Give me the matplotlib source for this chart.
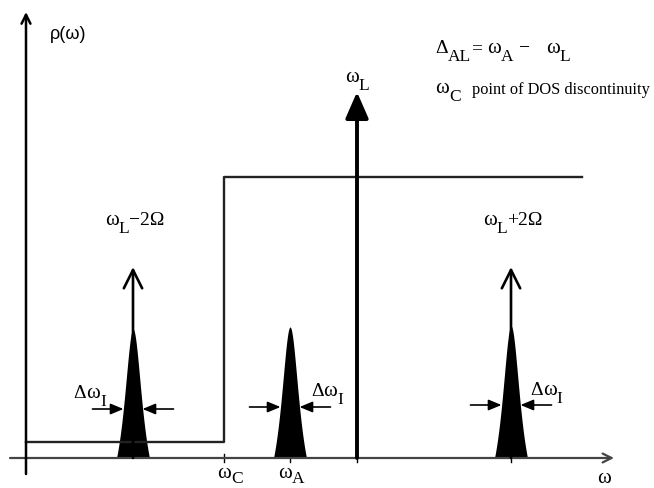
import numpy as np
import matplotlib
matplotlib.use("Agg")
import matplotlib.pyplot as plt

SERIF = ['Liberation Serif', 'DejaVu Serif']
SANS = ['Liberation Sans', 'DejaVu Sans']
plt.rcParams['font.family'] = SERIF

# ---- data (schematic units: omega along x, rho / intensity along y) ----
omega_C = 198          # point of DOS discontinuity
omega_A = 264          # atomic transition
omega_L = 331          # laser frequency
omega_end = 556        # end of drawn DOS
rho_low = 16           # DOS below omega_C
rho_high = 281         # DOS above omega_C
peak_centers = [107, 264, 485]      # omega_L-2Omega, omega_A, omega_L+2Omega
peak_heights = [129, 131, 132]
peak_halfbase = 16.5                # half width of peak at base
peak_gamma = 11.3                   # Lorentzian width parameter
side_arrow_top = 191                # height of sideband delta arrows
laser_arrow_top = 366               # height of omega_L arrow
width_marker_y = [49, 51, 53]       # height of Delta omega_I markers
marker_gap = 9.5
marker_len = 31
x_axis = (-16, 578)
y_axis = (-16, 446)

fig = plt.figure(figsize=(6.54, 4.89), dpi=100)
ax = fig.add_axes([0, 0, 1, 1])
ax.set_xlim(-26, 628)
ax.set_ylim(-30, 459)
ax.axis('off')
renderer = fig.canvas.get_renderer()

# axes
ax.annotate('', xy=(x_axis[1] + 10, 0), xytext=(x_axis[0], 0),
            arrowprops=dict(arrowstyle='->', color='#444444', lw=1.6,
                            mutation_scale=16, shrinkA=0, shrinkB=0))
ax.annotate('', xy=(0, y_axis[1]), xytext=(0, y_axis[0]),
            arrowprops=dict(arrowstyle='->', color='black', lw=1.8,
                            mutation_scale=16, shrinkA=0, shrinkB=0))

# ticks
for xt in [omega_C, omega_A, omega_L, peak_centers[2]]:
    ax.plot([xt, xt], [-4, 4], color='black', lw=1.0)

# DOS step
ax.plot([0, omega_C, omega_C, omega_end],
        [rho_low, rho_low, rho_high, rho_high], color='#222222', lw=1.7)

# peaks (truncated Lorentzian line shape)
u = 1.0 / (1 + (peak_halfbase / peak_gamma) ** 2)
for c, h in zip(peak_centers, peak_heights):
    xs = np.linspace(-peak_halfbase, peak_halfbase, 201)
    cc = h / (1 - u)
    ys = cc / (1 + (xs / peak_gamma) ** 2) - cc * u
    ax.fill_between(xs + c, 0, ys, color='black', lw=0)

# sideband delta arrows
for c in [peak_centers[0], peak_centers[2]]:
    ax.annotate('', xy=(c, side_arrow_top), xytext=(c, 0),
                arrowprops=dict(arrowstyle='->,head_length=0.6,head_width=0.3',
                                color='black', lw=1.9,
                                mutation_scale=22, shrinkA=0, shrinkB=0))
# laser arrow
ax.annotate('', xy=(omega_L, laser_arrow_top), xytext=(omega_L, 0),
            arrowprops=dict(arrowstyle='-|>,head_length=0.8,head_width=0.35',
                            color='black', lw=2.8,
                            mutation_scale=20, shrinkA=0, shrinkB=0))

# width markers
for c, wy in zip(peak_centers, width_marker_y):
    for s in (-1, 1):
        ax.annotate('', xy=(c + s * marker_gap, wy),
                    xytext=(c + s * (marker_gap + marker_len), wy),
                    arrowprops=dict(arrowstyle='-|>,head_length=0.6,head_width=0.25',
                                    color='black', lw=1.2,
                                    mutation_scale=13, shrinkA=0, shrinkB=0))


def rich(x, y, pieces, ha='left'):
    """pieces: (text, fontsize, baseline shift, gap after) ; 1 data unit = 1 px"""
    texts = []
    cur = x
    for s, fs, dy, gap in pieces:
        t = ax.text(cur, y + dy, s, fontsize=fs, va='baseline', ha='left',
                    family=SERIF)
        w = t.get_window_extent(renderer).width
        texts.append(t)
        cur += w + gap
    total = cur - x
    shift = {'left': 0, 'center': total / 2, 'right': total}[ha]
    for t in texts:
        px, py = t.get_position()
        t.set_x(px - shift)
    return texts


W, S, D = 15, 12.5, -8   # omega size, subscript size, subscript drop

# labels
ax.text(24, 424, 'ρ(ω)', family=SANS, fontsize=13, va='center', ha='left')
rich(571, -24, [('ω', W, 0, 0)])
rich(191, -19, [('ω', W, 0, 0), ('C', S, -5, 0)])
rich(252, -19, [('ω', W, 0, 0), ('A', S, -5, 0)])
rich(319, 377, [('ω', W, 0, 0), ('L', S, D, 0)])
rich(peak_centers[0] + 2, 234, [('ω', W, 0, 0), ('L', S, D, 0), ('−2Ω', 14, 0, 0)],
     ha='center')
rich(peak_centers[2] + 2, 234, [('ω', W, 0, 0), ('L', S, D, 0), ('+2Ω', 14, 0, 0)],
     ha='center')
for xr, yb in [(80, 61), (285, 63), (504, 64)]:
    rich(xr, yb, [('Δ', 14, 0, 0), ('ω', W, 0, 0), ('I', S, D, 0)],
         ha='right' if xr == 80 else 'left')
rich(409, 406, [('Δ', 14, 0, 0), ('AL', S, D, 0), ('=', 14, 0, 5),
                ('ω', W, 0, 0), ('A', S, D, 6), ('−', 14, 0, 16),
                ('ω', W, 0, 0), ('L', S, D, 0)])
rich(409, 366, [('ω', W, 0, 0), ('C', S, D, 0)])
ax.text(446, 365, 'point of DOS discontinuity', fontsize=11.8, ha='left',
        va='baseline', family=SERIF)

fig.savefig('out.png', dpi=100)
